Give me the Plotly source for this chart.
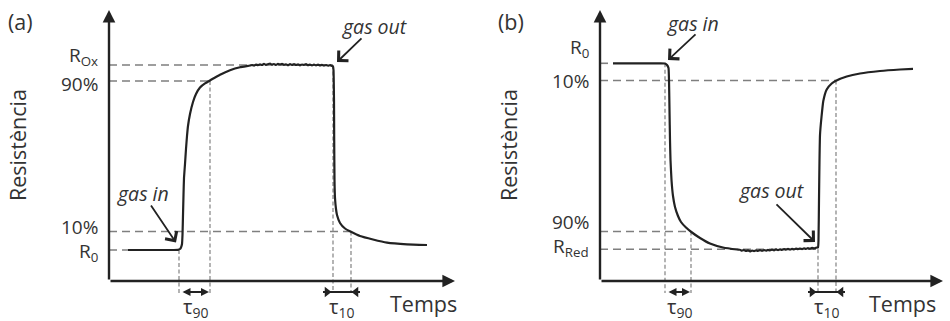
import plotly.graph_objects as go

# ---------------------------------------------------------------------------
# Response curves (time in arbitrary units from the axis origin, resistance in
# arbitrary units from the time axis)
# ---------------------------------------------------------------------------
# (a) oxidising gas: resistance rises from R0 to ROx and recovers
t_a = [19, 41, 61, 69, 71, 72, 73, 73.5, 74, 74.5, 75, 76, 77, 78, 79, 81, 84, 87, 91, 96,
       102, 111, 121, 131,
       141, 143, 145, 147, 149, 151, 153, 155, 157, 159, 161, 163, 165, 167, 169, 171, 173,
       175, 177, 179, 181, 183, 185, 187, 189, 191, 193, 195, 197, 199, 201, 203, 205, 207,
       209, 211, 213, 215, 217, 219, 221, 223, 224,
       224.5, 225, 225.2, 225.5, 226, 227, 228, 231, 236, 242, 251, 264, 278, 298, 318]
r_a = [31, 31, 31, 31.2, 32, 33.5, 37, 46, 66, 86, 103, 117, 132, 145, 155, 167, 179, 187,
       193.5, 197.6, 201.2, 206.3, 210.8, 213.8,
       215.5, 216.0, 215.4, 216.4, 215.8, 216.6, 216.0, 217.1, 216.2, 216.8, 217.4, 216.4,
       217.0, 216.1, 217.2, 216.5, 217.1, 216.2, 216.7, 215.9, 216.8, 216.1, 217.0, 216.0,
       216.6, 215.7, 216.5, 216.0, 216.8, 215.8, 216.4, 215.6, 216.3, 215.7, 216.5, 215.6,
       216.2, 215.4, 216.0, 215.3, 215.8, 215.0, 214.5,
       211, 181, 141, 101, 83, 72, 66, 58, 52.5, 49.2, 45, 41.5, 38.4, 36.7, 36]

# (b) reducing gas: resistance falls from R0 to RRed and recovers
t_b = [13, 40, 60, 65, 67, 68.5, 69, 69.5, 70, 70.5, 71.5, 73, 75, 78, 81, 86, 92, 100, 110,
       123, 137,
       140, 142, 144, 146, 148, 150, 152, 154, 156, 158, 160, 162, 164, 166, 168, 170, 172,
       174, 176, 178, 180, 182, 184, 186, 188, 190, 192, 194, 196, 198, 200, 202, 204, 206,
       208, 210, 212, 214, 216, 218,
       218.5, 219, 219.5, 220, 221.5, 223.3, 226.7, 231.7, 236, 246.7, 260, 280, 300, 313]
r_b = [217.7, 217.7, 217.7, 217.5, 216, 213, 201, 171, 141, 121, 101, 85, 74, 65, 59, 53.5,
       48.5, 43, 37.5, 33.5, 31.5,
       31.2, 30.4, 31.0, 30.1, 30.7, 29.7, 30.5, 29.8, 30.6, 30.0, 30.8, 30.2, 31.0, 30.3,
       31.2, 30.5, 31.3, 30.7, 31.6, 30.9, 31.7, 31.1, 31.9, 31.3, 32.1, 31.4, 32.2, 31.6,
       32.4, 31.8, 32.5, 31.9, 32.7, 32.1, 32.8, 32.3, 33.1, 32.6, 33.3, 33.5,
       41, 81, 121, 146, 164, 180, 191.5, 197.5, 200.3, 204.5, 207.5, 210, 211.5, 212.2]

# Characteristic levels: baseline, 10 %, 90 %, saturation
levels_a = [31, 49.5, 200, 216]
labels_a = ["R<sub>0</sub>", "10%", "90%", "R<sub>Ox</sub>"]
levels_b = [217.7, 200.5, 49.5, 31.7]
labels_b = ["R<sub>0</sub>", "10%", "90%", "R<sub>Red</sub>"]

# Event times: gas in, 90 % reached, gas out, 10 % reached
times_a = [70, 101, 224, 242]
times_b = [65, 91, 218, 236]

axis_end_a = [346, 271]
axis_end_b = [343, 271]

INK = "#222222"
TXT = "#333333"
DASH = "#7f7f7f"
FONT = "Open Sans"

fig = go.Figure()

panels = [
    dict(t=t_a, r=r_a, lv=levels_a, lab=labels_a, tm=times_a, end=axis_end_a,
         x="x", y="y", tag="(a)",
         lab_dy=[-2, 4.5, -3, 9],
         gas_in=dict(text=(34, 88), tail=(41, 77), tip=(67, 38.5)),
         gas_out=dict(text=(266, 255), tail=(254, 244), tip=(228, 219)),
         temps_x=314),
    dict(t=t_b, r=r_b, lv=levels_b, lab=labels_b, tm=times_b, end=axis_end_b,
         x="x2", y="y2", tag="(b)",
         lab_dy=[15, -0.5, 9.5, 2],
         gas_in=dict(text=(93, 258), tail=(97, 248), tip=(68, 221)),
         gas_out=dict(text=(172, 91), tail=(175, 78), tip=(215, 39)),
         temps_x=302),
]

BELOW = -11  # row of the time-constant arrows under the time axis

annotations = []
for p in panels:
    xa, ya = p["x"], p["y"]
    lv, tm = p["lv"], p["tm"]
    # horizontal guides: R0 to curve start, 10 % to t10, 90 % to t90, Rsat to gas out
    h_ends = [p["t"][0], tm[3], tm[1], tm[2]]
    for level, t_end in zip(lv, h_ends):
        fig.add_trace(go.Scatter(x=[0, t_end], y=[level, level], mode="lines",
                                 line=dict(color=DASH, width=1.6, dash="8px,5px"),
                                 xaxis=xa, yaxis=ya, showlegend=False, hoverinfo="skip"))
    # vertical guides down below the time axis
    v_tops = [lv[0], lv[2], lv[3], lv[1]]
    for t_v, top in zip(tm, v_tops):
        fig.add_trace(go.Scatter(x=[t_v, t_v], y=[top, BELOW - 1], mode="lines",
                                 line=dict(color="#8c8c8c", width=1.3, dash="4px,2.5px"),
                                 xaxis=xa, yaxis=ya, showlegend=False, hoverinfo="skip"))
    # response curve
    fig.add_trace(go.Scatter(x=p["t"], y=p["r"], mode="lines",
                             line=dict(color=INK, width=2.2, shape="spline", smoothing=0.4),
                             xaxis=xa, yaxis=ya, showlegend=False, hoverinfo="skip"))
    # t10 bar with inward-pointing heads
    fig.add_trace(go.Scatter(x=[tm[2] - 10, tm[3] + 9], y=[BELOW, BELOW], mode="lines",
                             line=dict(color=INK, width=2),
                             xaxis=xa, yaxis=ya, showlegend=False, hoverinfo="skip"))
    fig.add_trace(go.Scatter(x=[tm[2] - 6, tm[3] + 5], y=[BELOW, BELOW], mode="markers",
                             marker=dict(symbol=["triangle-right", "triangle-left"], size=9,
                                         color=INK),
                             xaxis=xa, yaxis=ya, showlegend=False, hoverinfo="skip"))

    common = dict(xref=xa, yref=ya, axref=xa, ayref=ya, text="", showarrow=True)
    # axes with arrow heads
    annotations.append(dict(x=p["end"][0], y=0, ax=0, ay=0, arrowhead=2, arrowsize=1.05,
                            arrowwidth=2.4, arrowcolor=INK, **common))
    annotations.append(dict(x=0, y=p["end"][1], ax=0, ay=0, arrowhead=2, arrowsize=1.05,
                            arrowwidth=2.4, arrowcolor=INK, **common))
    # t90 double arrow
    annotations.append(dict(x=tm[1] - 1, y=BELOW, ax=tm[0] + 2, ay=BELOW, arrowhead=2,
                            startarrowhead=2, arrowside="end+start", arrowsize=0.8,
                            startarrowsize=0.8, arrowwidth=2, arrowcolor=INK, **common))
    # gas in / gas out pointers
    for key in ("gas_in", "gas_out"):
        g = p[key]
        annotations.append(dict(x=g["tip"][0], y=g["tip"][1], ax=g["tail"][0], ay=g["tail"][1],
                                arrowhead=4, arrowsize=1.5, arrowwidth=1.8,
                                arrowcolor=INK, **common))
        annotations.append(dict(x=g["text"][0], y=g["text"][1], xref=xa, yref=ya,
                                text="<i>" + key.replace("_", " ") + "</i>", showarrow=False,
                                font=dict(family=FONT, size=19.5, color=TXT)))
    # level labels
    for level, lab, dy in zip(lv, p["lab"], p["lab_dy"]):
        annotations.append(dict(x=-9, y=level + dy, xref=xa, yref=ya, text=lab,
                                showarrow=False, xanchor="right", yanchor="middle",
                                font=dict(family=FONT, size=19, color=TXT)))
    # time-constant labels
    annotations.append(dict(x=(tm[0] + tm[1]) / 2 + 1, y=-26, xref=xa, yref=ya,
                            text="τ<sub>90</sub>", showarrow=False,
                            font=dict(family=FONT, size=20, color=TXT)))
    annotations.append(dict(x=(tm[2] + tm[3]) / 2 - 1, y=-26, xref=xa, yref=ya,
                            text="τ<sub>10</sub>", showarrow=False,
                            font=dict(family=FONT, size=20, color=TXT)))
    # axis titles and panel tag
    annotations.append(dict(x=p["temps_x"], y=-22, xref=xa, yref=ya, text="Temps",
                            showarrow=False, font=dict(family=FONT, size=21.5, color=TXT)))
    annotations.append(dict(x=-92, y=136, xref=xa, yref=ya, text="Resistència",
                            textangle=-90, showarrow=False,
                            font=dict(family=FONT, size=21.5, color=TXT)))
    annotations.append(dict(x=-89, y=260, xref=xa, yref=ya, text=p["tag"],
                            showarrow=False, font=dict(family=FONT, size=21.5, color=TXT)))

hidden = dict(visible=False, showgrid=False, zeroline=False, fixedrange=True)
fig.update_layout(
    width=950, height=321,
    margin=dict(l=0, r=0, t=0, b=0),
    paper_bgcolor="white", plot_bgcolor="white",
    xaxis=dict(domain=[0, 0.5], range=[-109, 366], **hidden),
    yaxis=dict(domain=[0, 1], range=[-40, 281], **hidden),
    xaxis2=dict(domain=[0.5, 1], range=[-125, 350], **hidden),
    yaxis2=dict(domain=[0, 1], range=[-40, 281], anchor="x2", **hidden),
    annotations=annotations,
    showlegend=False,
)

fig.write_html("out.html")
